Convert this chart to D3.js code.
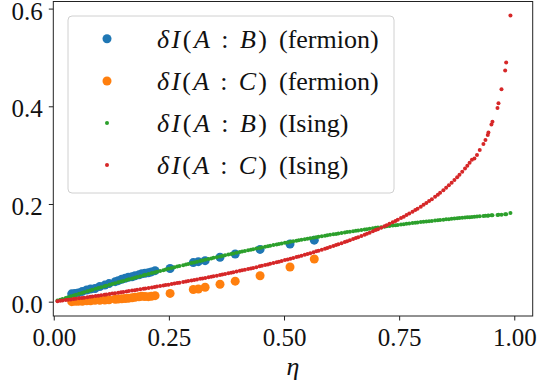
<!DOCTYPE html>
<html><head><meta charset="utf-8">
<script src="https://cdn.jsdelivr.net/npm/d3@7"></script>
<style>body{margin:0;background:#fff}svg{display:block}</style>
</head><body>
<svg id="c" width="538" height="384"></svg>
<script>
// ---- data ----
const xTicks = [0, 0.25, 0.5, 0.75, 1.0];
const xTickLabels = ["0.00", "0.25", "0.50", "0.75", "1.00"];
const yTicks = [0, 0.2, 0.4, 0.6];
const yTickLabels = ["0.0", "0.2", "0.4", "0.6"];

// fermion results
const etaFermion = [0.039,0.046,0.053,0.062,0.0715,0.080,0.0896,0.100,0.111,0.120,0.1335,0.140,0.1476,0.155,0.162,0.170,0.1765,0.185,0.191,0.198,0.2054,0.212,0.220,0.2526,0.303,0.314,0.3287,0.361,0.394,0.448,0.513,0.5657];
const dIAB_fermion = [0.016,0.017,0.018,0.021,0.024,0.026,0.027,0.031,0.034,0.037,0.041,0.043,0.046,0.048,0.050,0.051,0.053,0.055,0.057,0.058,0.059,0.061,0.0635,0.068,0.080,0.082,0.084,0.091,0.0977,0.107,0.118,0.126];
const dIAC_fermion = [0.000,0.001,0.001,0.001,0.002,0.002,0.003,0.003,0.0035,0.004,0.005,0.0055,0.006,0.0065,0.007,0.008,0.009,0.010,0.011,0.0105,0.0103,0.011,0.0123,0.017,0.025,0.026,0.0295,0.0356,0.042,0.053,0.071,0.0874];

// Ising results
const etaIsing = [0.008,0.014,0.019,0.026,0.031,0.037,0.043,0.048,0.055,0.061,0.066,0.073,0.079,0.084,0.091,0.097,0.103,0.110,0.114,0.121,0.127,0.133,0.140,0.146,0.151,0.158,0.163,0.170,0.176,0.181,0.188,0.195,0.199,0.206,0.213,0.219,0.224,0.231,0.238,0.243,0.249,0.256,0.262,0.268,0.273,0.281,0.287,0.292,0.299,0.305,0.311,0.318,0.323,0.329,0.336,0.342,0.347,0.354,0.361,0.366,0.372,0.379,0.385,0.390,0.397,0.404,0.409,0.415,0.422,0.428,0.433,0.440,0.447,0.452,0.459,0.465,0.470,0.477,0.484,0.489,0.495,0.502,0.508,0.514,0.520,0.527,0.532,0.538,0.545,0.551,0.557,0.564,0.570,0.575,0.582,0.589,0.594,0.600,0.607,0.613,0.618,0.625,0.632,0.637,0.643,0.650,0.656,0.661,0.668,0.675,0.680,0.686,0.693,0.699,0.704,0.711,0.718,0.723,0.729,0.736,0.742,0.747,0.754,0.760,0.766,0.772,0.779,0.785,0.790,0.797,0.803,0.809,0.815,0.821,0.828,0.834,0.839,0.846,0.852,0.858,0.864,0.870,0.876,0.881,0.887,0.893,0.898,0.903,0.908,0.9135,0.919,0.925,0.933,0.9374,0.9424,0.9439,0.9504,0.9526,0.9635,0.9657,0.9722,0.9802,0.9824,0.9917];
const dIAB_ising = [0.0024,0.0042,0.0057,0.0077,0.0092,0.0109,0.0127,0.0141,0.0161,0.0179,0.0193,0.0213,0.0229,0.0244,0.0263,0.0280,0.0296,0.0315,0.0326,0.0345,0.0362,0.0378,0.0396,0.0412,0.0426,0.0444,0.0457,0.0475,0.0491,0.0504,0.0522,0.0539,0.0549,0.0567,0.0585,0.0599,0.0612,0.0629,0.0646,0.0658,0.0673,0.0689,0.0704,0.0718,0.0730,0.0748,0.0762,0.0774,0.0790,0.0803,0.0817,0.0833,0.0844,0.0857,0.0873,0.0886,0.0897,0.0912,0.0927,0.0937,0.0950,0.0965,0.0977,0.0987,0.1002,0.1016,0.1026,0.1038,0.1052,0.1064,0.1074,0.1088,0.1101,0.1111,0.1124,0.1136,0.1145,0.1158,0.1171,0.1180,0.1191,0.1204,0.1214,0.1225,0.1236,0.1248,0.1256,0.1267,0.1279,0.1289,0.1299,0.1310,0.1320,0.1328,0.1340,0.1351,0.1359,0.1368,0.1379,0.1388,0.1396,0.1406,0.1417,0.1424,0.1433,0.1443,0.1452,0.1459,0.1468,0.1478,0.1485,0.1493,0.1503,0.1511,0.1517,0.1526,0.1535,0.1542,0.1549,0.1558,0.1566,0.1571,0.1580,0.1587,0.1594,0.1601,0.1609,0.1616,0.1621,0.1629,0.1635,0.1641,0.1648,0.1654,0.1661,0.1667,0.1672,0.1679,0.1685,0.1690,0.1696,0.1702,0.1707,0.1712,0.1717,0.1722,0.1726,0.1731,0.1734,0.1739,0.1743,0.1748,0.1754,0.1758,0.1761,0.1762,0.1767,0.1769,0.1777,0.1778,0.1782,0.1788,0.1789,0.1815];
const dIAC_ising = [0.0010,0.0017,0.0023,0.0032,0.0038,0.0046,0.0054,0.0060,0.0069,0.0077,0.0083,0.0092,0.0100,0.0107,0.0116,0.0124,0.0133,0.0142,0.0148,0.0157,0.0166,0.0174,0.0184,0.0193,0.0200,0.0210,0.0217,0.0227,0.0236,0.0244,0.0254,0.0265,0.0271,0.0281,0.0292,0.0302,0.0309,0.0320,0.0332,0.0340,0.0349,0.0361,0.0371,0.0381,0.0389,0.0402,0.0413,0.0421,0.0433,0.0444,0.0454,0.0467,0.0476,0.0487,0.0500,0.0511,0.0520,0.0533,0.0546,0.0556,0.0568,0.0581,0.0593,0.0603,0.0617,0.0631,0.0642,0.0654,0.0669,0.0681,0.0692,0.0707,0.0723,0.0734,0.0749,0.0763,0.0775,0.0791,0.0807,0.0819,0.0834,0.0851,0.0865,0.0880,0.0895,0.0913,0.0926,0.0942,0.0961,0.0977,0.0993,0.1013,0.1030,0.1044,0.1064,0.1085,0.1100,0.1118,0.1139,0.1158,0.1174,0.1197,0.1220,0.1236,0.1257,0.1281,0.1302,0.1320,0.1345,0.1371,0.1390,0.1413,0.1441,0.1465,0.1485,0.1514,0.1544,0.1566,0.1593,0.1625,0.1653,0.1677,0.1711,0.1741,0.1772,0.1804,0.1842,0.1875,0.1904,0.1945,0.1982,0.2020,0.2059,0.2099,0.2148,0.2191,0.2228,0.2282,0.2331,0.2381,0.2434,0.2489,0.2547,0.2597,0.2660,0.2727,0.2785,0.2846,0.2905,0.2930,0.3004,0.3107,0.3230,0.3311,0.3414,0.3461,0.3625,0.3682,0.3967,0.4063,0.4350,0.4731,0.4895,0.5857];

const seriesLabels = [
  {v:"B", tag:"(fermion)"},
  {v:"C", tag:"(fermion)"},
  {v:"B", tag:"(Ising)"},
  {v:"C", tag:"(Ising)"}
];
const colors = ["#1f77b4", "#ff7f0e", "#2ca02c", "#d62728"];

// ---- chart ----
const W = 538, H = 384;
const L = 53.3, R = 532.7, T = 1.5, B = 316;
const FONT = "'Liberation Serif', 'Times New Roman', serif";
const FS = 25;
const svg = d3.select("#c");

const x = d3.scaleLinear().domain([-0.001, 1.04]).range([L, R]);
const y = d3.scaleLinear().domain([-0.0293, 0.6145]).range([B, T]);

const rBig = 4.5, rSmall = 2.0;
const plot = svg.append("g");
function scatter(xs, ys, color, r) {
  plot.append("g").selectAll("circle").data(xs).join("circle")
    .attr("cx", (d) => x(d)).attr("cy", (d, i) => y(ys[i]))
    .attr("r", r).attr("fill", color);
}
scatter(etaFermion, dIAB_fermion, colors[0], rBig);
scatter(etaFermion, dIAC_fermion, colors[1], rBig);
scatter(etaIsing, dIAB_ising, colors[2], rSmall);
scatter(etaIsing, dIAC_ising, colors[3], rSmall);

// axes
const xAxis = svg.append("g").attr("transform", `translate(0,${B})`)
  .call(d3.axisBottom(x).tickValues(xTicks).tickFormat((d, i) => xTickLabels[i]).tickSize(4.5).tickPadding(6));
const yAxis = svg.append("g").attr("transform", `translate(${L},0)`)
  .call(d3.axisLeft(y).tickValues(yTicks).tickFormat((d, i) => yTickLabels[i]).tickSize(4.5).tickPadding(6));
[xAxis, yAxis].forEach(a => {
  a.select(".domain").remove();
  a.selectAll(".tick line").attr("stroke", "#222").attr("stroke-width", 1);
  a.selectAll(".tick text").attr("font-family", FONT).attr("font-size", FS).attr("fill", "#111");
});
yAxis.selectAll(".tick text").attr("dy", "0.42em");
xAxis.selectAll(".tick text").attr("dy", "0.78em");

// spines
svg.append("rect").attr("x", L).attr("y", T).attr("width", R - L).attr("height", B - T)
  .attr("fill", "none").attr("stroke", "#222").attr("stroke-width", 1);

// x label
svg.append("text").attr("x", x(0.5) + 9).attr("y", 375)
  .attr("text-anchor", "middle").attr("font-family", FONT).attr("font-size", FS + 1)
  .attr("font-style", "italic").attr("fill", "#111").text("η");

// legend
const lg = svg.append("g");
lg.append("rect").attr("x", 68).attr("y", 16).attr("width", 326).attr("height", 177)
  .attr("rx", 4).attr("fill", "#fff").attr("fill-opacity", 0.8)
  .attr("stroke", "#d0d0d0").attr("stroke-width", 1);
const rowY = [38.7, 81, 123, 165];
const mr = [rBig, rBig, rSmall, rSmall];
const LFS = 26;
seriesLabels.forEach((s, i) => {
  lg.append("circle").attr("cx", 107).attr("cy", rowY[i]).attr("r", mr[i]).attr("fill", colors[i]);
  const t = lg.append("text").attr("x", 157).attr("y", rowY[i] + 9)
    .attr("font-family", FONT).attr("font-size", LFS).attr("fill", "#111")
    .attr("textLength", 110).attr("lengthAdjust", "spacing");
  t.append("tspan").attr("font-style", "italic").text("δI");
  t.append("tspan").text("(");
  t.append("tspan").attr("font-style", "italic").text("A");
  t.append("tspan").text(" : ");
  t.append("tspan").attr("font-style", "italic").text(s.v);
  t.append("tspan").text(")");
  lg.append("text").attr("x", 279).attr("y", rowY[i] + 9)
    .attr("font-family", FONT).attr("font-size", LFS).attr("fill", "#111").text(s.tag);
});
</script>
</body></html>
